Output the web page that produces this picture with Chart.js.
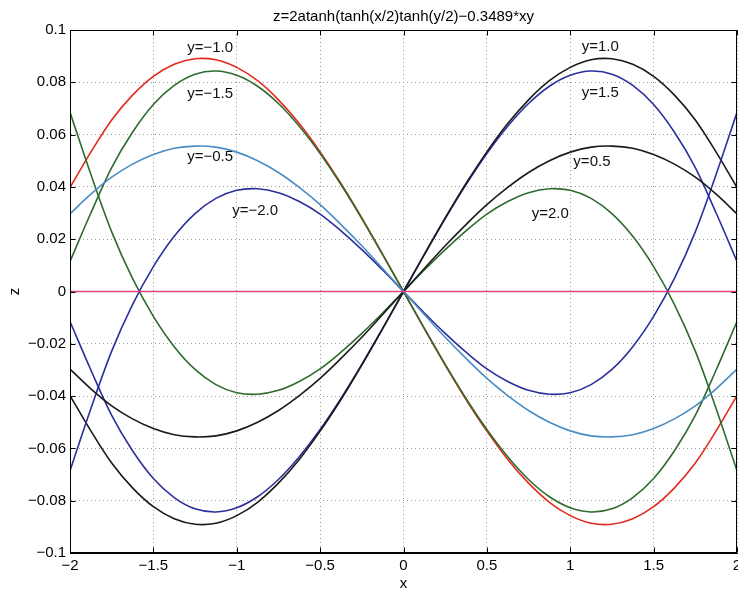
<!DOCTYPE html>
<html>
<head>
<meta charset="utf-8">
<script src="https://cdn.jsdelivr.net/npm/chart.js@4.4.1/dist/chart.umd.min.js"></script>
<style>
  html, body { margin: 0; padding: 0; background: #fff; overflow: hidden; }
  #wrap { width: 760px; height: 593px; }
</style>
</head>
<body>
<div id="wrap"><canvas id="surfChart" width="760" height="593"></canvas></div>
<script>
// x positions of the sampled points
const xValues = [-2, -1.875, -1.75, -1.625, -1.5, -1.375, -1.25, -1.125, -1, -0.875, -0.75, -0.625, -0.5, -0.375, -0.25, -0.125,
    0, 0.125, 0.25, 0.375, 0.5, 0.625, 0.75, 0.875, 1, 1.125, 1.25, 1.375, 1.5, 1.625, 1.75, 1.875, 2];

// z values, one array per curve
const zYp10 = [-0.0398, -0.0533, -0.0656, -0.0751, -0.0823, -0.0869, -0.0890, -0.0886, -0.0857, -0.0806, -0.0733, -0.0642, -0.0534, -0.0413, -0.0281, -0.0142,
    0, 0.0142, 0.0281, 0.0413, 0.0534, 0.0642, 0.0733, 0.0806, 0.0857, 0.0886, 0.0890, 0.0869, 0.0823, 0.0751, 0.0656, 0.0533, 0.0398];
const zYm10 = [0.0398, 0.0533, 0.0656, 0.0751, 0.0823, 0.0869, 0.0890, 0.0886, 0.0857, 0.0806, 0.0733, 0.0642, 0.0534, 0.0413, 0.0281, 0.0142,
    0, -0.0142, -0.0281, -0.0413, -0.0534, -0.0642, -0.0733, -0.0806, -0.0857, -0.0886, -0.0890, -0.0869, -0.0823, -0.0751, -0.0656, -0.0533, -0.0398];
const zYp05 = [-0.0297, -0.0372, -0.0437, -0.0487, -0.0524, -0.0548, -0.0556, -0.0552, -0.0533, -0.0500, -0.0455, -0.0398, -0.0332, -0.0256, -0.0175, -0.0088,
    0, 0.0088, 0.0175, 0.0256, 0.0332, 0.0398, 0.0455, 0.0500, 0.0533, 0.0552, 0.0556, 0.0548, 0.0524, 0.0487, 0.0437, 0.0372, 0.0297];
const zYm05 = [0.0297, 0.0372, 0.0437, 0.0487, 0.0524, 0.0548, 0.0556, 0.0552, 0.0533, 0.0500, 0.0455, 0.0398, 0.0332, 0.0256, 0.0175, 0.0088,
    0, -0.0088, -0.0175, -0.0256, -0.0332, -0.0398, -0.0455, -0.0500, -0.0533, -0.0552, -0.0556, -0.0548, -0.0524, -0.0487, -0.0437, -0.0372, -0.0297];
const zYp15 = [-0.0115, -0.0300, -0.0474, -0.0609, -0.0715, -0.0788, -0.0831, -0.0843, -0.0827, -0.0785, -0.0719, -0.0632, -0.0528, -0.0409, -0.0279, -0.0141,
    0, 0.0141, 0.0279, 0.0409, 0.0528, 0.0632, 0.0719, 0.0785, 0.0827, 0.0843, 0.0831, 0.0788, 0.0715, 0.0609, 0.0474, 0.0300, 0.0115];
const zYm15 = [0.0115, 0.0300, 0.0474, 0.0609, 0.0715, 0.0788, 0.0831, 0.0843, 0.0827, 0.0785, 0.0719, 0.0632, 0.0528, 0.0409, 0.0279, 0.0141,
    0, -0.0141, -0.0279, -0.0409, -0.0528, -0.0632, -0.0719, -0.0785, -0.0827, -0.0843, -0.0831, -0.0788, -0.0715, -0.0609, -0.0474, -0.0300, -0.0115];
const zYp20 = [0.0685, 0.0448, 0.0228, 0.0050, -0.0095, -0.0211, -0.0298, -0.0356, -0.0387, -0.0393, -0.0378, -0.0344, -0.0296, -0.0232, -0.0160, -0.0082,
    0, 0.0082, 0.0160, 0.0232, 0.0296, 0.0344, 0.0378, 0.0393, 0.0387, 0.0356, 0.0298, 0.0211, 0.0095, -0.0050, -0.0228, -0.0448, -0.0685];
const zYm20 = [-0.0685, -0.0448, -0.0228, -0.0050, 0.0095, 0.0211, 0.0298, 0.0356, 0.0387, 0.0393, 0.0378, 0.0344, 0.0296, 0.0232, 0.0160, 0.0082,
    0, -0.0082, -0.0160, -0.0232, -0.0296, -0.0344, -0.0378, -0.0393, -0.0387, -0.0356, -0.0298, -0.0211, -0.0095, 0.0050, 0.0228, 0.0448, 0.0685];
const zY00 = [0, 0, 0, 0, 0, 0, 0, 0, 0, 0, 0, 0, 0, 0, 0, 0, 0, 0, 0, 0, 0, 0, 0, 0, 0, 0, 0, 0, 0, 0, 0, 0, 0];

// tick labels
const xTickLabels = ['\u22122', '\u22121.5', '\u22121', '\u22120.5', '0', '0.5', '1', '1.5', '2'];
const zTickLabels = ['\u22120.1', '\u22120.08', '\u22120.06', '\u22120.04', '\u22120.02', '0', '0.02', '0.04', '0.06', '0.08', '0.1'];

// curve names written inside the plot (x, z in data units)
const curveNames = ['y=\u22121.0', 'y=\u22121.5', 'y=\u22120.5', 'y=\u22122.0', 'y=1.0', 'y=1.5', 'y=0.5', 'y=2.0'];
const nameX = [-1.16, -1.16, -1.16, -0.89, 1.18, 1.18, 1.13, 0.88];
const nameZ = [0.093, 0.0755, 0.0515, 0.031, 0.0935, 0.076, 0.0496, 0.0298];

const FONT = "'Liberation Sans', Arial, Helvetica, sans-serif";

function toPoints(zs) {
    return xValues.map((x, i) => ({ x: x, y: zs[i] }));
}

function makeSet(label, zs, color) {
    return {
        label,
        data: toPoints(zs),
        borderColor: color,
        borderWidth: 1.6,
        pointRadius: 0,
        fill: false,
        tension: 0.35
    };
}

// inner tick marks and the full box, matlab style
const framePlugin = {
    id: 'frame',
    afterDatasetsDraw(chart) {
        const { ctx, chartArea: a, scales } = chart;
        const L = Math.round(a.left) + 0.5, R = Math.round(a.right) - 0.5;
        const T = Math.round(a.top) + 0.5, B = Math.round(a.bottom) - 0.5;
        ctx.save();
        ctx.strokeStyle = '#000';
        ctx.lineWidth = 1;
        ctx.strokeRect(L, T, R - L, B - T);
        ctx.beginPath();
        scales.x.ticks.forEach(t => {
            const px = Math.round(scales.x.getPixelForValue(t.value)) + 0.5;
            ctx.moveTo(px, B); ctx.lineTo(px, B - 5);
            ctx.moveTo(px, T); ctx.lineTo(px, T + 5);
        });
        scales.y.ticks.forEach(t => {
            const py = Math.round(scales.y.getPixelForValue(t.value)) + 0.5;
            ctx.moveTo(L, py); ctx.lineTo(L + 5, py);
            ctx.moveTo(R, py); ctx.lineTo(R - 5, py);
        });
        ctx.stroke();
        ctx.restore();
    }
};

// y=... names next to the curves
const namesPlugin = {
    id: 'curveNames',
    afterDatasetsDraw(chart) {
        const { ctx, scales } = chart;
        ctx.save();
        ctx.font = '15px ' + FONT;
        ctx.fillStyle = '#111';
        ctx.textAlign = 'center';
        ctx.textBaseline = 'middle';
        curveNames.forEach((name, i) => {
            ctx.fillText(name, scales.x.getPixelForValue(nameX[i]), scales.y.getPixelForValue(nameZ[i]));
        });
        ctx.restore();
    }
};

const ctx = document.getElementById('surfChart').getContext('2d');
new Chart(ctx, {
    type: 'line',
    data: {
        datasets: [
            makeSet('y=0', zY00, '#e2417a'),
            makeSet('y=-0.5', zYm05, '#4a8cc4'),
            makeSet('y=0.5', zYp05, '#1a1a1a'),
            makeSet('y=-2.0', zYm20, '#2b2f9c'),
            makeSet('y=2.0', zYp20, '#2e6b2e'),
            makeSet('y=1.0', zYp10, '#1a1a1a'),
            makeSet('y=-1.5', zYm15, '#2e6b2e'),
            makeSet('y=1.5', zYp15, '#2b2f9c'),
            makeSet('y=-1.0', zYm10, '#e32a1c')
        ]
    },
    options: {
        responsive: false,
        animation: false,
        devicePixelRatio: 1,
        layout: { padding: { left: 0, right: 23, top: 0, bottom: 0 } },
        plugins: {
            legend: { display: false },
            tooltip: { enabled: false },
            title: {
                display: true,
                text: 'z=2atanh(tanh(x/2)tanh(y/2)\u22120.3489*xy',
                fullSize: false,
                color: '#000',
                font: { family: FONT, size: 15, weight: 'normal' },
                padding: { top: 8, bottom: 4 }
            }
        },
        scales: {
            x: {
                type: 'linear',
                min: -2,
                max: 2,
                afterFit: s => { s.height = 40; },
                ticks: {
                    stepSize: 0.5,
                    padding: 4,
                    color: '#000',
                    maxRotation: 0,
                    font: { family: FONT, size: 15 },
                    callback: (v, i) => xTickLabels[i]
                },
                grid: { color: '#9a9a9a', lineWidth: 1, drawTicks: false },
                border: { display: true, color: '#000', dash: [1, 3] },
                title: { display: true, text: 'x', color: '#000', font: { family: FONT, size: 15 }, padding: { top: 0, bottom: 0 } }
            },
            y: {
                type: 'linear',
                min: -0.1,
                max: 0.1,
                afterFit: s => { s.width = 70; },
                ticks: {
                    stepSize: 0.02,
                    padding: 4,
                    color: '#000',
                    font: { family: FONT, size: 15 },
                    callback: (v, i) => zTickLabels[i]
                },
                grid: { color: '#9a9a9a', lineWidth: 1, drawTicks: false },
                border: { display: true, color: '#000', dash: [1, 3] },
                title: { display: true, text: 'z', color: '#000', font: { family: FONT, size: 15 }, padding: { top: 6, bottom: 0 } }
            }
        }
    },
    plugins: [framePlugin, namesPlugin]
});
</script>
</body>
</html>
